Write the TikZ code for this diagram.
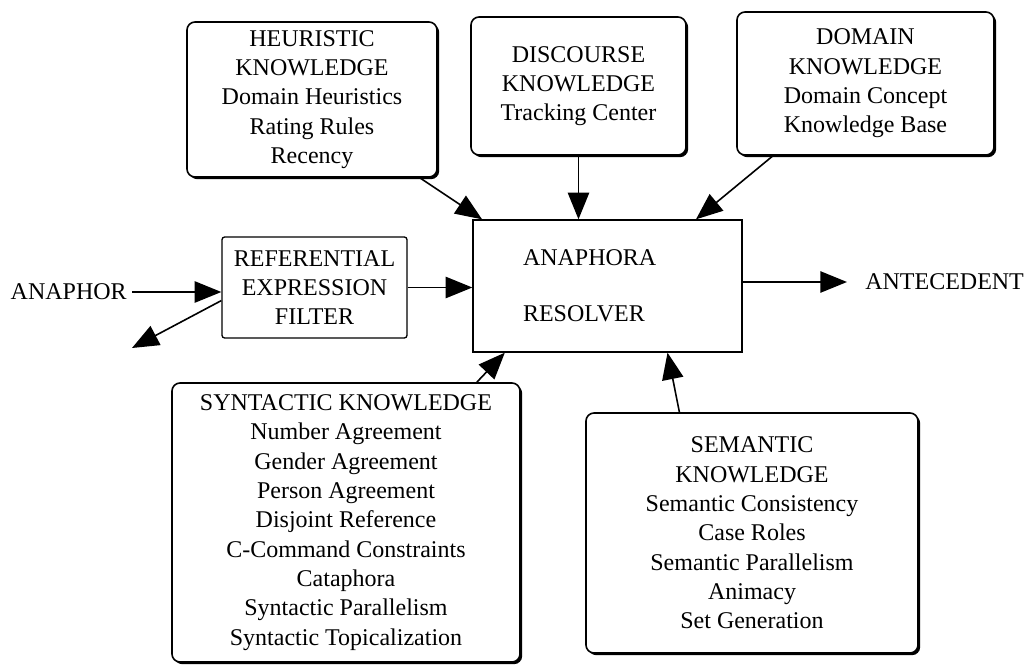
\documentclass[tikz,border=0pt]{standalone}
\usepackage{fontspec}
\setmainfont{Liberation Serif}
\usetikzlibrary{positioning,shadows,arrows.meta,calc}

\begin{document}
\begin{tikzpicture}[x=0.75pt, y=-0.75pt,
            font=\fontsize{18}{22}\selectfont,
            knowledge/.style={draw, line width=1.2pt, rounded corners=6pt, fill=white, align=center,
            drop shadow={shadow xshift=1.6pt, shadow yshift=-1.6pt, opacity=1, fill=black}},
            filterbox/.style={draw, line width=1pt, rounded corners=2pt, align=center},
            resolverbox/.style={draw, line width=1pt, align=left, inner xsep=37.5pt, text width=126.75pt},
            flow/.style={line width=1.2pt, -{Triangle[length=20pt, width=16pt]}}]

            \useasboundingbox (0,0) rectangle (1026,667);

            \node[knowledge, minimum width=187.5pt, minimum height=116.25pt] (heur) at (312,99.5)
                {HEURISTIC\\KNOWLEDGE\\Domain Heuristics\\Rating Rules\\Recency};
            \node[knowledge, minimum width=161.25pt, minimum height=103.5pt] (disc) at (578.5,86)
                {DISCOURSE\\KNOWLEDGE\\Tracking Center};
            \node[knowledge, minimum width=192.75pt, minimum height=107.25pt] (dom) at (865.5,83.5)
                {DOMAIN\\KNOWLEDGE\\Domain Concept\\Knowledge Base};
            \node[resolverbox, minimum height=99pt] (res) at (607.5,286)
                {ANAPHORA\\[20pt]RESOLVER};
            \node[filterbox, minimum width=138.75pt, minimum height=75.75pt] (filt) at (314.5,287.5)
                {REFERENTIAL\\EXPRESSION\\FILTER};
            \node[knowledge, minimum width=261pt, minimum height=209.25pt] (synt) at (346,522.5)
                {SYNTACTIC KNOWLEDGE\\Number Agreement\\Gender Agreement\\Person Agreement\\Disjoint Reference\\C-Command Constraints\\Cataphora\\Syntactic Parallelism\\Syntactic Topicalization};
            \node[knowledge, minimum width=249pt, minimum height=180pt] (sem) at (752,533)
                {SEMANTIC\\KNOWLEDGE\\Semantic Consistency\\Case Roles\\Semantic Parallelism\\Animacy\\Set Generation};
            \node[anchor=east, inner sep=3.75pt] (anaphor) at (132,292) {ANAPHOR};
            \node[anchor=west, inner xsep=13.5pt] (antecedent) at (847,282) {ANTECEDENT};
            \coordinate (reject) at (132,348);

            \draw[flow] (heur.-36) -- (res.152);
            \draw[flow] (disc.south) -- (disc.south |- res.north);
            \draw[flow] (dom.218) -- (res.37);
            \draw[flow] (synt.47) -- (res.213);
            \draw[flow] (sem.121) -- (res.-48);
            \draw[flow] (anaphor.east) -- (anaphor.east -| filt.west);
            \draw[flow] (filt.east) -- (filt.east -| res.west);
            \draw[flow] (filt.188) -- (reject);
            \draw[flow] (res.east |- antecedent.west) -- (antecedent.west);
        \end{tikzpicture}
\end{document}
